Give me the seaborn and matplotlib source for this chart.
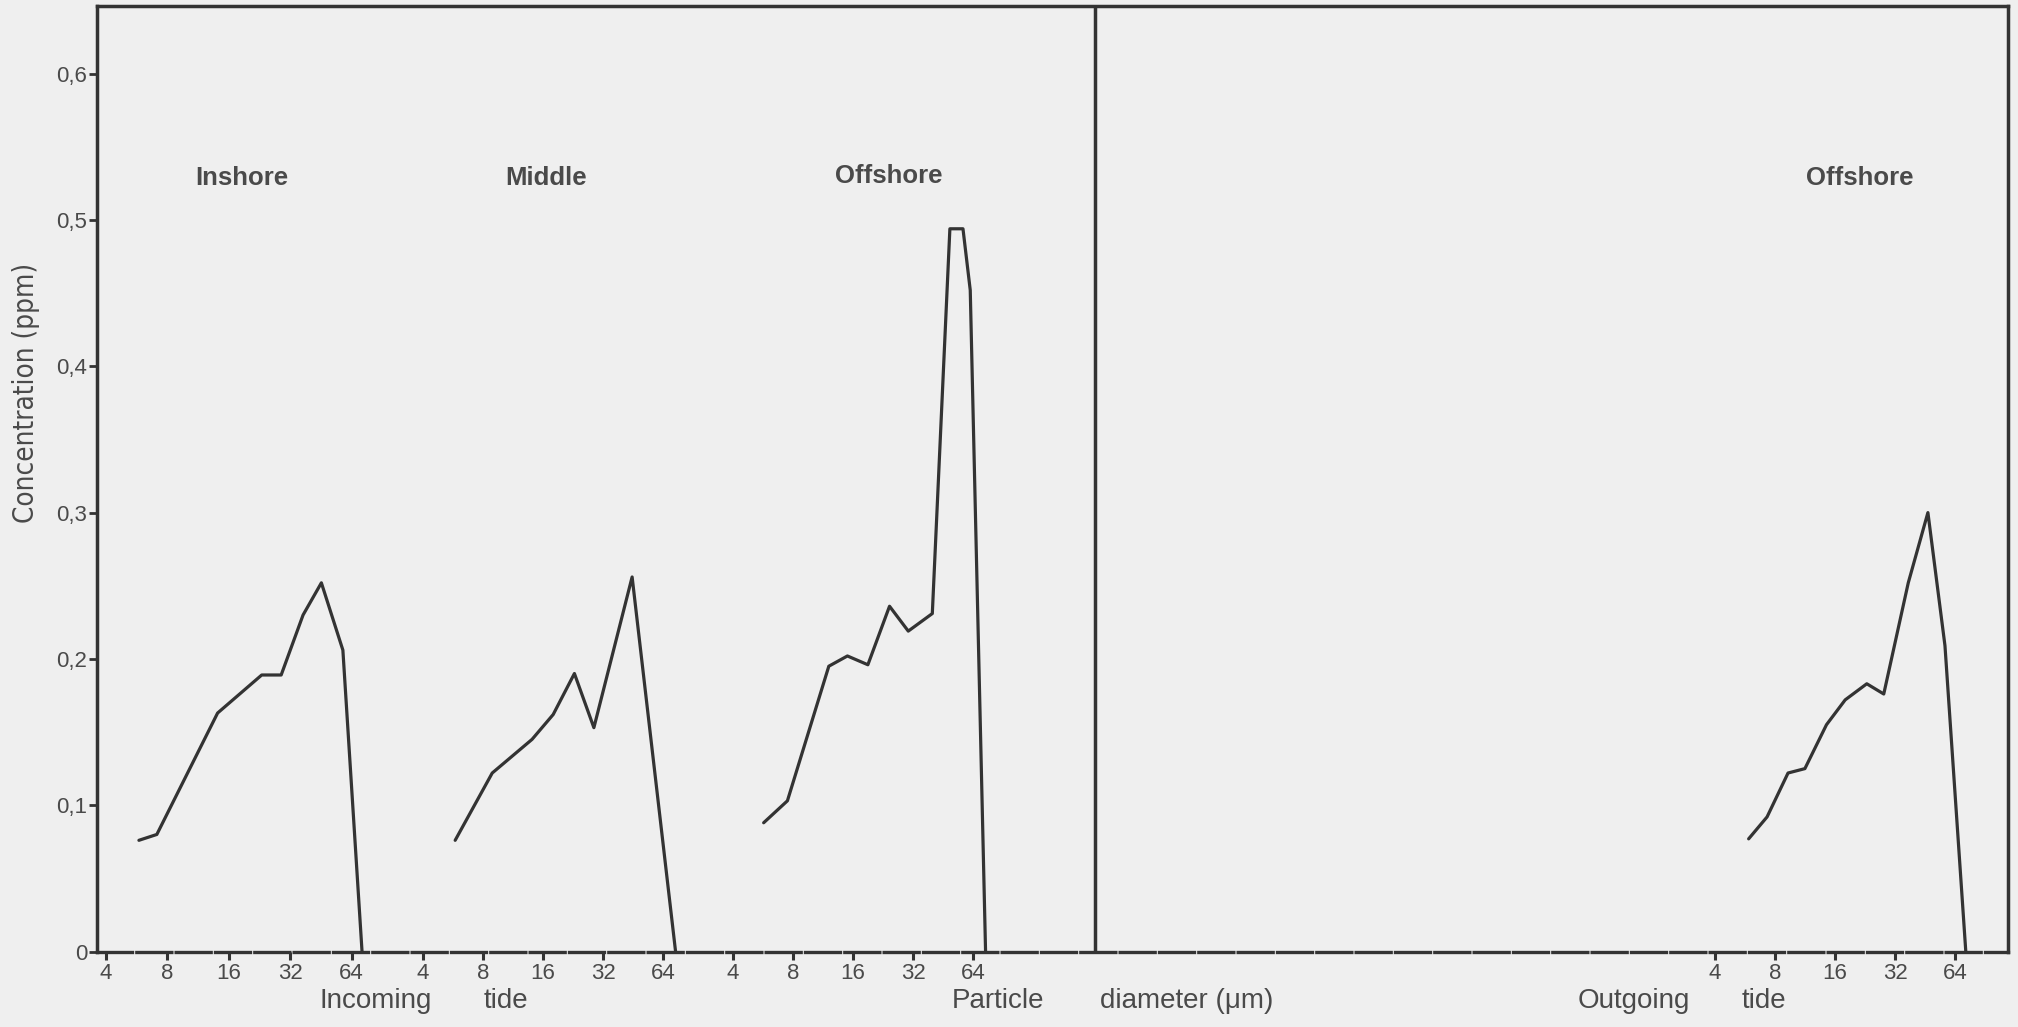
import matplotlib
matplotlib.use("Agg")
import matplotlib.pyplot as plt
from matplotlib.ticker import NullLocator
import pandas as pd
import seaborn as sns

# ---------------- data ----------------
diam_ticks = [4, 8, 16, 32, 64]
diam_tick_labels = ["4", "8", "16", "32", "64"]
conc_ticks = [0, 0.1, 0.2, 0.3, 0.4, 0.5, 0.6]
conc_tick_labels = ["0", "0,1", "0,2", "0,3", "0,4", "0,5", "0,6"]

inshore_in_d = [5.8, 7.1, 14.1, 23.2, 28.9, 37.0, 45.5, 58.0, 72.0]
inshore_in_c = [0.076, 0.080, 0.163, 0.189, 0.189, 0.230, 0.252, 0.206, 0.0]

middle_in_d = [5.8, 8.9, 14.1, 18.0, 23.0, 28.8, 44.8, 74.0]
middle_in_c = [0.076, 0.122, 0.145, 0.162, 0.190, 0.153, 0.256, 0.0]

offshore_in_d = [5.7, 7.5, 12.1, 15.0, 19.0, 24.4, 30.3, 40.0, 49.0, 57.0, 62.0, 74.0]
offshore_in_c = [0.088, 0.103, 0.195, 0.202, 0.196, 0.236, 0.219, 0.231, 0.494, 0.494, 0.452, 0.0]

offshore_out_d = [5.9, 7.3, 9.3, 11.3, 14.5, 18.0, 23.1, 28.1, 37.3, 46.8, 57.0, 72.5]
offshore_out_c = [0.077, 0.092, 0.122, 0.125, 0.155, 0.172, 0.183, 0.176, 0.252, 0.300, 0.209, 0.0]

panel_titles = ["Inshore", "Middle", "Offshore", "Offshore"]
y_label = "Concentration (ppm)"

# ---------------- styling / layout ----------------
BG = "#efefef"
LINE = "#333333"
TEXT = "#4a4a4a"

sns.set_theme(style="white")
plt.rcParams["font.family"] = ["Liberation Sans", "DejaVu Sans"]

W, H = 2018, 1027
fig = plt.figure(figsize=(W / 100, H / 100), dpi=100, facecolor=BG)

# frame in pixel coordinates (from top-left)
L, R, B, T = 97, 2008, 951.5, 6.4
YMAX = 0.646
rect = [L / W, 1 - B / H, (R - L) / W, (B - T) / H]

ax = fig.add_axes(rect)
ax.set_facecolor(BG)
ax.set_xlim(0, 1)
ax.set_ylim(0, YMAX)
for side in ["left", "top", "right"]:
    ax.spines[side].set_color(LINE)
    ax.spines[side].set_linewidth(2.5)
ax.spines["bottom"].set_color(LINE)
ax.spines["bottom"].set_linewidth(2.4)
ax.spines["bottom"].set_linestyle((0, (10.5, 1.3)))
ax.set_xticks([])
ax.set_yticks(conc_ticks)
ax.set_yticklabels(conc_tick_labels)
ax.tick_params(axis="y", direction="out", length=6, width=2, color=LINE,
               labelsize=16, labelcolor=TEXT, pad=1, left=True)

# vertical divider between incoming and outgoing tide
DIV_X = 1095
ax.axvline((DIV_X - L) / (R - L), color=LINE, lw=2.5)

# panel axes: log2 particle-diameter scale, position of the "4" tick and px per octave
panel_x4 = [106, 423, 733, 1715]
panel_oct = [61.4, 60.0, 60.0, 60.0]
panel_data = [(inshore_in_d, inshore_in_c), (middle_in_d, middle_in_c),
              (offshore_in_d, offshore_in_c), (offshore_out_d, offshore_out_c)]

for (d, c), x4, octv in zip(panel_data, panel_x4, panel_oct):
    pax = fig.add_axes(rect)
    pax.patch.set_visible(False)
    pax.set_xscale("log", base=2)
    lo = 4 * 2 ** ((L - x4) / octv)
    hi = 4 * 2 ** ((R - x4) / octv)
    df = pd.DataFrame({"d": d, "c": c})
    sns.lineplot(data=df, x="d", y="c", ax=pax, sort=False, estimator=None,
                 color=LINE, lw=2.3)
    pax.set_xlim(lo, hi)
    pax.set_ylim(0, YMAX)
    pax.set_xticks(diam_ticks)
    pax.set_xticklabels(diam_tick_labels)
    pax.xaxis.set_minor_locator(NullLocator())
    for s in pax.spines.values():
        s.set_visible(False)
    pax.tick_params(axis="x", direction="out", length=6, width=2.2, color=LINE,
                    labelsize=16, labelcolor=TEXT, pad=2, bottom=True)
    pax.tick_params(axis="y", left=False, labelleft=False)
    pax.set_xlabel("")
    pax.set_ylabel("")

# panel titles
title_pos = [(242, 178), (546, 178), (889, 176), (1860, 178)]
for t, (px, py) in zip(panel_titles, title_pos):
    fig.text(px / W, 1 - py / H, t, ha="center", va="center", fontsize=18.5,
             fontweight="bold", color=TEXT)

# y label
fig.text(26 / W, 1 - 393 / H, y_label, rotation=90, ha="center", va="center",
         fontsize=20, color=TEXT, family=["DejaVu Sans"], fontstretch="condensed")

# bottom labels (left edges in px)
bottom_words = [("Incoming", 320), ("tide", 484), ("Particle", 952),
                ("diameter (\u03bcm)", 1100), ("Outgoing", 1578), ("tide", 1742)]
for word, px in bottom_words:
    fig.text(px / W, 1 - 1001 / H, word, ha="left", va="center",
             fontsize=20, color=TEXT)

fig.savefig("out.png", dpi=100, facecolor=BG)
